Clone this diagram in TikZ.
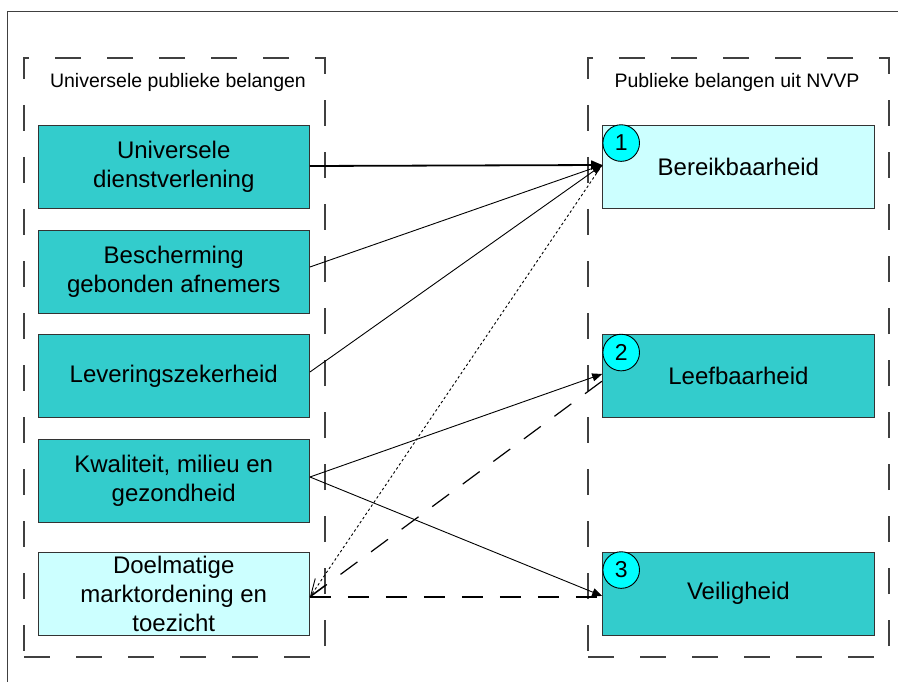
\documentclass[tikz,border=0pt]{standalone}
\usepackage{fontspec}
\setmainfont{Liberation Sans}
\usetikzlibrary{arrows.meta}
\definecolor{boxteal}{HTML}{33CCCC}
\definecolor{boxpale}{HTML}{CCFFFF}
\definecolor{badgecyan}{HTML}{00FFFF}
\definecolor{framegray}{HTML}{404040}
\begin{document}
\begin{tikzpicture}[x=1pt,y=-1pt,
  item/.style={draw=black!80, line width=0.9pt, minimum width=271.5pt,
    minimum height=83pt, inner sep=0pt, align=center,
    font=\fontsize{24}{29}\selectfont},
  dark/.style={item, fill=boxteal},
  pale/.style={item, fill=boxpale},
  badge/.style={circle, draw=black, line width=0.9pt, fill=badgecyan,
    minimum size=36.6pt, inner sep=0pt, font=\fontsize{23}{23}\selectfont},
  group/.style={draw=framegray, line width=1.3pt, dash pattern=on 26pt off 26pt,
    minimum width=301pt, minimum height=599pt, inner sep=0pt},
  caption/.style={font=\fontsize{19.5}{22}\selectfont, inner sep=0pt},
  link/.style={line width=0.9pt, -{Triangle[length=10pt,width=8pt]}},
  mainlink/.style={line width=1.8pt, -{Triangle[length=11pt,width=9pt]}},
  dotlink/.style={line width=0.9pt, dash pattern=on 2.5pt off 2.5pt,
    -{Straight Barb[length=17pt,width=12pt,line width=0.9pt]}},
  dashlink/.style={line width=1.2pt, dash pattern=on 21pt off 17pt},
]
\useasboundingbox (0,0) rectangle (898,682);

% outer frame
\draw[framegray, line width=1pt] (7.5,690) -- (7.5,12) -- (905,12);

% the two groups
\node[group] (gleft) at (174.5,357.5) {};
\node[group] (gright) at (738.5,357.5) {};
\node[caption] (cleft) at (178,82.5) {Universele publieke belangen};
\node[caption] (cright) at (737,82.5) {Publieke belangen uit NVVP};

% universal public interests
\node[dark] (ud) at (173.75,166.5) {Universele\\dienstverlening};
\node[dark] (bes) at (173.75,271.5) {Bescherming\\gebonden afnemers};
\node[dark] (lev) at (173.75,376) {Leveringszekerheid};
\node[dark] (kwa) at (173.75,481) {Kwaliteit, milieu en\\gezondheid};
\node[pale] (doel) at (173.75,593.5) {Doelmatige\\marktordening en\\toezicht};

% public interests from NVVP
\node[pale] (ber) at (738.4,166.5) {Bereikbaarheid};
\node[dark] (lee) at (738.4,376) {Leefbaarheid};
\node[dark] (vei) at (738.4,593.5) {Veiligheid};

\node[badge] (n1) at ([xshift=19pt,yshift=-18.5pt]ber.north west) {1};
\node[badge] (n2) at ([xshift=19pt,yshift=-18.5pt]lee.north west) {2};
\node[badge] (n3) at ([xshift=19pt,yshift=-18.5pt]vei.north west) {3};

% connectors
\draw[mainlink] ([yshift=0.5pt]ud.east) -- ([yshift=1.5pt]ber.west);
\draw[link] ([yshift=4.5pt]bes.east) -- ([yshift=1.5pt]ber.west);
\draw[link] ([yshift=4pt]lev.east) -- ([yshift=1.5pt]ber.west);
\draw[link] ([yshift=4pt]kwa.east) -- ([yshift=2pt]lee.west);
\draw[link] ([yshift=4pt]kwa.east) -- ([yshift=-2.5pt]vei.west);
\draw[dotlink] ([yshift=1.5pt]ber.west) -- ([yshift=-3.5pt]doel.east);
\draw[dashlink] ([yshift=-3.5pt]doel.east) -- ([yshift=-5pt]lee.west);
\draw[dashlink] ([yshift=-3.5pt]doel.east) -- ([yshift=-3.5pt]vei.west);
\end{tikzpicture}
\end{document}
